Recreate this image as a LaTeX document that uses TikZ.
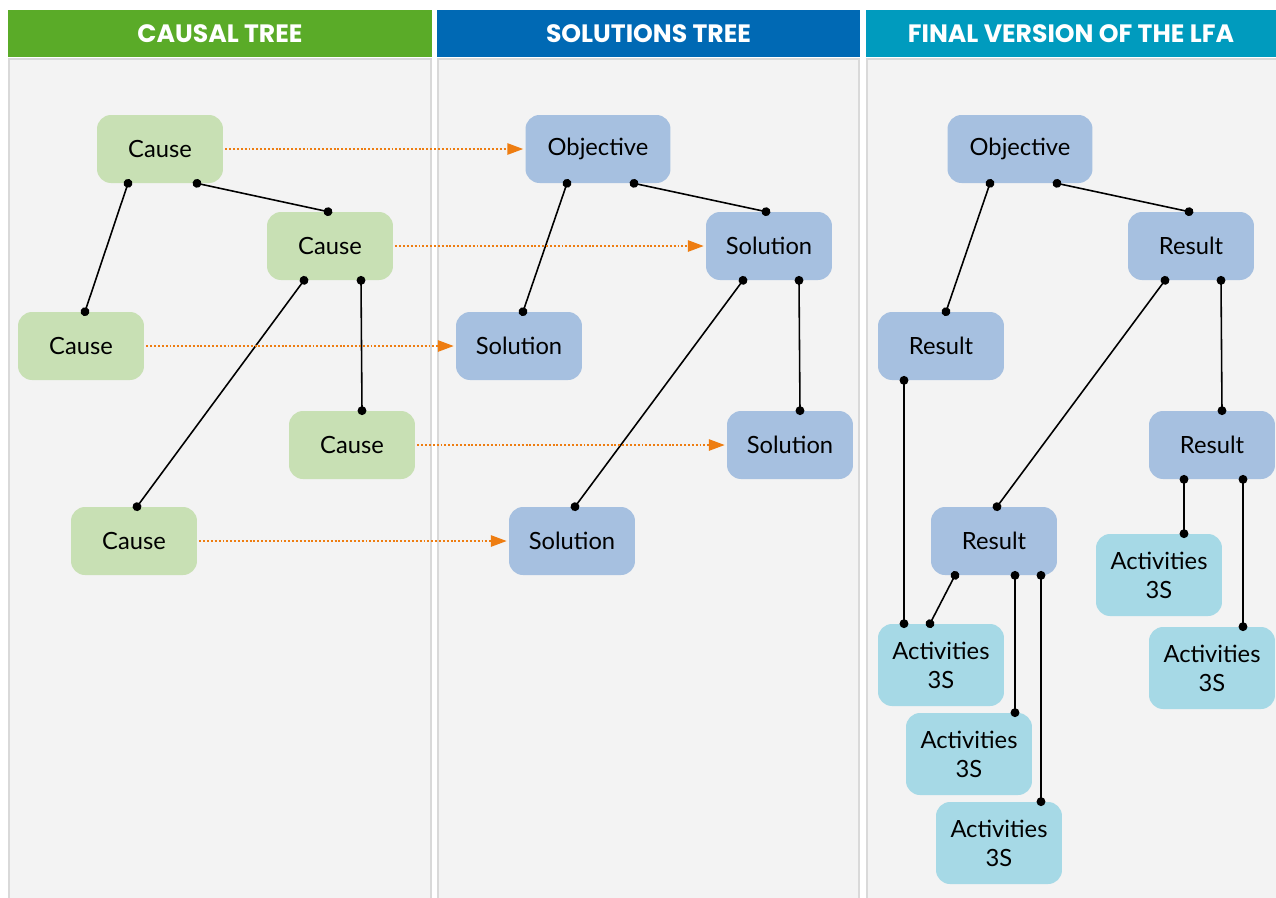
\documentclass[tikz,border=0pt]{standalone}
\usepackage{fontspec}
\setmainfont{Lato}
\newfontfamily\hdrfont{Poppins}
\usetikzlibrary{arrows.meta,calc}
\definecolor{hdrgreen}{HTML}{5AAB28}
\definecolor{hdrblue}{HTML}{0069B4}
\definecolor{hdrteal}{HTML}{009BBE}
\definecolor{causefill}{HTML}{C8E0B4}
\definecolor{solfill}{HTML}{A6C0E0}
\definecolor{actfill}{HTML}{A6D9E6}
\definecolor{panelbg}{HTML}{F3F3F3}
\definecolor{panelline}{HTML}{D9D9D9}
\definecolor{linkorange}{HTML}{EE7D11}
\begin{document}
\begin{tikzpicture}[x=0.02cm,y=-0.02cm,
  box/.style={rounded corners=0.28cm,minimum width=2.52cm,minimum height=1.36cm,align=center,inner sep=2pt,font=\fontsize{13.5}{16.5}\selectfont},
  cau/.style={box,fill=causefill},
  sol/.style={box,fill=solfill},
  act/.style={box,fill=actfill,minimum height=1.64cm},
  hdr/.style={minimum height=0.94cm,text=white,font=\hdrfont\fontsize{14.3}{16}\selectfont\bfseries},
  pnl/.style={fill=panelbg,draw=panelline,line width=0.8pt},
  lnk/.style={{Circle[length=5pt]}-{Circle[length=5pt]},line width=0.9pt,shorten <=-2.5pt,shorten >=-2.5pt},
  darr/.style={-{Triangle[length=9pt,width=6.5pt]},linkorange,line width=0.75pt,dash pattern=on 1.1pt off 1.1pt}]
\useasboundingbox (0,0) rectangle (1276,897);
\fill[white] (0,0) rectangle (1276,897);
% panels and headings
\draw[pnl] (9,59) rectangle (431,905);
\draw[pnl] (438,59) rectangle (859,905);
\draw[pnl] (867,59) rectangle (1285,905);
\node[hdr,fill=hdrgreen,minimum width=8.48cm] (hd1) at (220,33.5) {CAUSAL TREE};
\node[hdr,fill=hdrblue,minimum width=8.46cm] (hd2) at (648.5,33.5) {SOLUTIONS TREE};
\node[hdr,fill=hdrteal,minimum width=8.2cm] (hd3) at (1071,33.5) {FINAL VERSION OF THE LFA};
% causal tree
\node[cau] (c1) at (160,149) {Cause};
\node[cau] (c2) at (330,246) {Cause};
\node[cau] (c3) at (81,346) {Cause};
\node[cau] (c4) at (352,445) {Cause};
\node[cau] (c5) at (134,541) {Cause};
% solutions tree
\node[sol,minimum width=2.9cm] (s0) at (598,149) {Objective};
\node[sol] (s1) at (769,246) {Solution};
\node[sol] (s2) at (519,346) {Solution};
\node[sol] (s3) at (790,445) {Solution};
\node[sol] (s4) at (572,541) {Solution};
% final version
\node[sol,minimum width=2.9cm] (f0) at (1020,149) {Objective};
\node[sol] (f1) at (1191,246) {Result};
\node[sol] (f2) at (941,346) {Result};
\node[sol] (f3) at (1212,445) {Result};
\node[sol] (f4) at (994,541) {Result};
\node[act] (a1) at (941,665) {Activities\\3S};
\node[act] (a2) at (969,754) {Activities\\3S};
\node[act] (a3) at (999,843) {Activities\\3S};
\node[act] (a4) at (1159,575) {Activities\\3S};
\node[act] (a5) at (1212,668) {Activities\\3S};
% links
\draw[lnk] ($(c1.south)+(-32,0)$) -- ($(c3.north)+(4,0)$);
\draw[lnk] ($(c1.south)+(37,0)$) -- ($(c2.north)+(-2,0)$);
\draw[lnk] ($(c2.south)+(-26,0)$) -- ($(c5.north)+(3,0)$);
\draw[lnk] ($(c2.south)+(31,0)$) -- ($(c4.north)+(10,0)$);
\draw[lnk] ($(s0.south)+(-31,0)$) -- ($(s2.north)+(4,0)$);
\draw[lnk] ($(s0.south)+(36,0)$) -- ($(s1.north)+(-3,0)$);
\draw[lnk] ($(s1.south)+(-26,0)$) -- ($(s4.north)+(3,0)$);
\draw[lnk] ($(s1.south)+(30,0)$) -- ($(s3.north)+(10,0)$);
\draw[lnk] ($(f0.south)+(-30,0)$) -- ($(f2.north)+(5,0)$);
\draw[lnk] ($(f0.south)+(37,0)$) -- ($(f1.north)+(-2,0)$);
\draw[lnk] ($(f1.south)+(-26,0)$) -- ($(f4.north)+(3,0)$);
\draw[lnk] ($(f1.south)+(30,0)$) -- ($(f3.north)+(10,0)$);
\draw[lnk] ($(f2.south)+(-37,0)$) -- ($(a1.north)+(-37,0)$);
\draw[lnk] ($(f4.south)+(-39,0)$) -- ($(a1.north)+(-11,0)$);
\draw[lnk] ($(f4.south)+(21,0)$) -- ($(a2.north)+(46,0)$);
\draw[lnk] ($(f4.south)+(47,0)$) -- ($(a3.north)+(42,0)$);
\draw[lnk] ($(f3.south)+(-28,0)$) -- ($(a4.north)+(25,0)$);
\draw[lnk] ($(f3.south)+(31,0)$) -- ($(a5.north)+(31,0)$);
% cause to solution
\draw[darr] ($(c1.east)+(2,0)$) -- ($(s0.west)+(-2,0)$);
\draw[darr] ($(c2.east)+(2,0)$) -- ($(s1.west)+(-2,0)$);
\draw[darr] ($(c3.east)+(2,0)$) -- ($(s2.west)+(-2,0)$);
\draw[darr] ($(c4.east)+(2,0)$) -- ($(s3.west)+(-2,0)$);
\draw[darr] ($(c5.east)+(2,0)$) -- ($(s4.west)+(-2,0)$);
\end{tikzpicture}
\end{document}
